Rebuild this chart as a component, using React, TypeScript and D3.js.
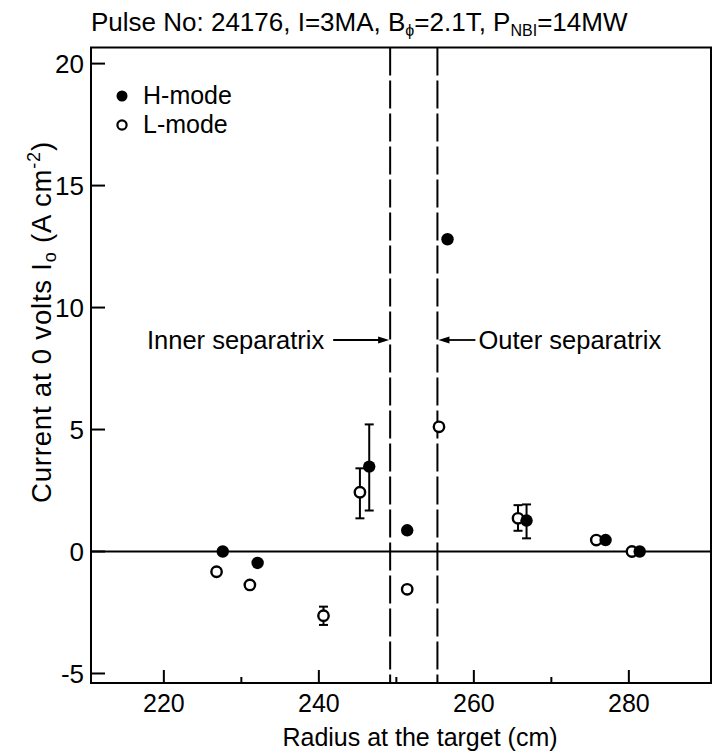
import React from 'react';
import * as d3 from 'd3';

// ---- data ----
const hModeRadius = [227.6, 232.1, 246.5, 251.4, 256.6, 266.8, 277.0, 281.4];
const hModeCurrent = [0.0, -0.47, 3.48, 0.87, 12.8, 1.27, 0.47, 0.0];
const hModeErrLow: (number | null)[] = [null, null, 1.68, null, null, 0.54, null, null];
const hModeErrHigh: (number | null)[] = [null, null, 5.21, null, null, 1.93, null, null];

const lModeRadius = [226.8, 231.1, 240.6, 245.3, 251.4, 255.5, 265.7, 275.8, 280.4];
const lModeCurrent = [-0.83, -1.37, -2.63, 2.43, -1.55, 5.11, 1.36, 0.47, 0.0];
const lModeErrLow: (number | null)[] = [null, null, -3.01, 1.36, null, null, 0.85, null, null];
const lModeErrHigh: (number | null)[] = [null, null, -2.26, 3.41, null, null, 1.9, null, null];

const xMajorTicks = [220, 240, 260, 280];
const xMinorTicks = [230, 250, 270];
const yTicks = [-5, 0, 5, 10, 15, 20];
const separatrixRadius = [249.2, 255.3];
const legendLabels = ['H-mode', 'L-mode'];

const FONT = "'Liberation Sans', Arial, Helvetica, sans-serif";

export default function App() {
  const W = 718, H = 753;
  const left = 91, right = 711, top = 47.5, bottom = 683;
  const x = d3.scaleLinear().domain([210.6, 290.6]).range([left, right]);
  const y = d3.scaleLinear().domain([-5.39, 20.66]).range([bottom, top]);

  const hPts = hModeRadius.map((r, i) => ({ r, v: hModeCurrent[i], lo: hModeErrLow[i], hi: hModeErrHigh[i] }));
  const lPts = lModeRadius.map((r, i) => ({ r, v: lModeCurrent[i], lo: lModeErrLow[i], hi: lModeErrHigh[i] }));

  const errBar = (p: any, key: string) =>
    p.lo == null ? null : (
      <g key={key} stroke="#000" strokeWidth={2}>
        <line x1={x(p.r)} x2={x(p.r)} y1={y(p.lo)} y2={y(p.hi)} />
        <line x1={x(p.r) - 4.5} x2={x(p.r) + 4.5} y1={y(p.lo)} y2={y(p.lo)} />
        <line x1={x(p.r) - 4.5} x2={x(p.r) + 4.5} y1={y(p.hi)} y2={y(p.hi)} />
      </g>
    );

  const arrowY = 340;
  const inX = x(separatrixRadius[0]);
  const outX = x(separatrixRadius[1]);

  return (
    <svg width={W} height={H} style={{ position: 'absolute', left: 0, top: 0, background: '#fff' }}
      fontFamily={FONT}>
      <rect x={0} y={0} width={W} height={H} fill="#fff" />
      {/* title */}
      <text x={91} y={31} fontSize={26} fill="#000">
        Pulse No: 24176, I=3MA, B<tspan fontSize={16} dy={5}>ϕ</tspan>
        <tspan dy={-5}>=2.1T, P</tspan><tspan fontSize={16} dy={5}>NBI</tspan>
        <tspan dy={-5}>=14MW</tspan>
      </text>

      {/* zero line */}
      <line x1={left} x2={right} y1={y(0)} y2={y(0)} stroke="#000" strokeWidth={1.8} />

      {/* separatrix dashed lines */}
      {separatrixRadius.map((r, i) => (
        <line key={'sep' + i} x1={x(r)} x2={x(r)} y1={top} y2={bottom} stroke="#000"
          strokeWidth={2} strokeDasharray="28,5" />
      ))}

      {/* frame */}
      <rect x={left} y={top} width={right - left} height={bottom - top} fill="none" stroke="#000" strokeWidth={2} />

      {/* y ticks */}
      {yTicks.map(t => (
        <g key={'yt' + t}>
          <line x1={left} x2={left + 14} y1={y(t)} y2={y(t)} stroke="#000" strokeWidth={2} />
          <text x={left - 7} y={y(t) + 9.5} fontSize={26} textAnchor="end">{t}</text>
        </g>
      ))}

      {/* x ticks */}
      {xMajorTicks.map(t => (
        <g key={'xt' + t}>
          <line x1={x(t)} x2={x(t)} y1={bottom} y2={bottom - 13} stroke="#000" strokeWidth={2} />
          <text x={x(t)} y={712} fontSize={25} textAnchor="middle">{t}</text>
        </g>
      ))}
      {xMinorTicks.map(t => (
        <line key={'xm' + t} x1={x(t)} x2={x(t)} y1={bottom} y2={bottom - 6} stroke="#000" strokeWidth={2} />
      ))}

      {/* axis labels */}
      <text x={420} y={746} fontSize={25} textAnchor="middle">Radius at the target (cm)</text>
      <text transform="translate(51, 322) rotate(-90)" fontSize={27.5} letterSpacing={0.8} textAnchor="middle">
        Current at 0 volts I<tspan fontSize={18} dy={5}>o</tspan>
        <tspan dy={-5}> (A cm</tspan><tspan fontSize={18} dy={-11}>-2</tspan>
        <tspan dy={11}>)</tspan>
      </text>

      {/* separatrix annotations */}
      <text x={inX - 66} y={arrowY + 9} fontSize={25.5} textAnchor="end">Inner separatrix</text>
      <line x1={inX - 57} x2={inX - 9} y1={arrowY} y2={arrowY} stroke="#000" strokeWidth={1.8} />
      <path d={`M${inX - 1},${arrowY} L${inX - 12},${arrowY - 3.5} L${inX - 12},${arrowY + 3.5} Z`} fill="#000" />
      <text x={outX + 41} y={arrowY + 9} fontSize={25.5}>Outer separatrix</text>
      <line x1={outX + 9} x2={outX + 38} y1={arrowY} y2={arrowY} stroke="#000" strokeWidth={1.8} />
      <path d={`M${outX + 1},${arrowY} L${outX + 12},${arrowY - 3.5} L${outX + 12},${arrowY + 3.5} Z`} fill="#000" />

      {/* error bars */}
      {lPts.map((p, i) => errBar(p, 'le' + i))}
      {hPts.map((p, i) => errBar(p, 'he' + i))}

      {/* markers */}
      {lPts.map((p, i) => (
        <circle key={'l' + i} cx={x(p.r)} cy={y(p.v)} r={5.2} fill="#fff" stroke="#000" strokeWidth={2.4} />
      ))}
      {hPts.map((p, i) => (
        <circle key={'h' + i} cx={x(p.r)} cy={y(p.v)} r={6.2} fill="#000" />
      ))}

      {/* legend */}
      <circle cx={122} cy={96} r={5.5} fill="#000" />
      <text x={143} y={104} fontSize={25}>{legendLabels[0]}</text>
      <circle cx={122} cy={125} r={4.6} fill="#fff" stroke="#000" strokeWidth={2.2} />
      <text x={143} y={133} fontSize={25}>{legendLabels[1]}</text>
    </svg>
  );
}
